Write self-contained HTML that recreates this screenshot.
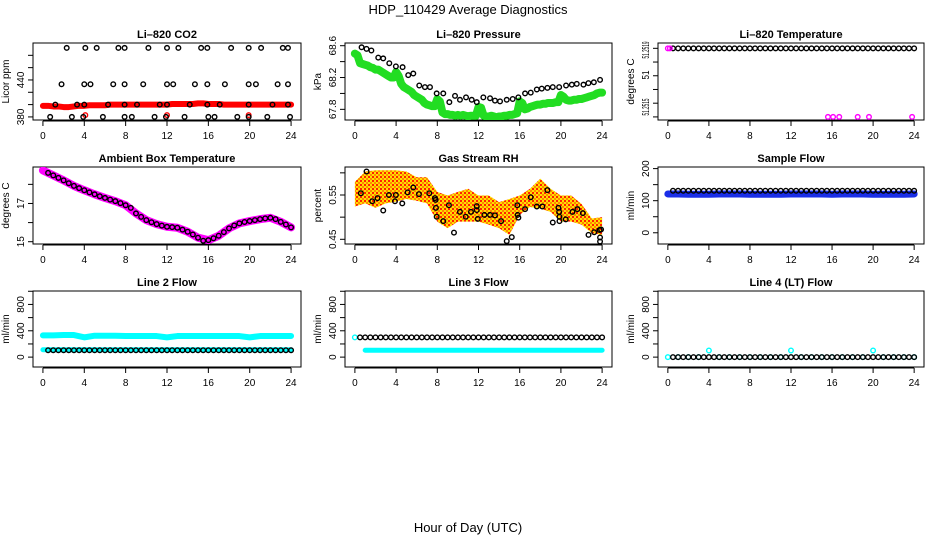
<!DOCTYPE html>
<html><head><meta charset="utf-8"><style>
html,body{margin:0;padding:0;background:#fff;}
svg{display:block;font-family:"Liberation Sans",Arial,sans-serif;}
</style></head><body>
<svg id="c" width="936" height="540" viewBox="0 0 936 540" xmlns="http://www.w3.org/2000/svg">
<defs>
<pattern id="rhpat" width="4" height="4" patternUnits="userSpaceOnUse">
<rect width="4" height="4" fill="#ffdd00"/>
<rect width="2" height="2" fill="#ff2200"/>
<rect x="2" y="2" width="2" height="2" fill="#ff8800"/>
</pattern>
</defs>
<text x="468" y="14" text-anchor="middle" font-size="13">HDP_110429  Average Diagnostics</text>
<text x="468" y="532" text-anchor="middle" font-size="13">Hour of Day (UTC)</text>
</svg>
<script>
// ---------- data ----------
const xTicks=[0,4,8,12,16,20,24];
// Panel 1 CO2
const co2TopT=[2.3,4.1,5.2,7.3,7.9,10.2,12.0,13.1,15.3,15.9,18.2,19.9,21.1,23.2,23.7];
const co2TopV=[492,492,492,492,492,492,492,492,492,492,492,492,492,492,492];
const co2MidT=[1.8,4.0,4.6,6.8,7.9,9.7,12.0,12.6,14.7,15.9,17.6,19.9,20.6,22.7,23.7];
const co2MidV=[433,433,433,433,433,433,433,433,433,433,433,433,433,433,433];
const co2LowT=[1.2,3.3,4.0,6.3,7.9,9.1,11.3,12.0,14.2,15.9,17.1,19.9,22.2,23.7];
const co2LowV=[400,400,400,400,400,400,400,400,400,400,400,400,400,400];
const co2BotT=[0.7,2.8,3.9,5.8,7.9,8.6,10.8,11.9,13.7,16.0,16.6,18.8,19.9,21.7,23.9];
const co2BotV=[380,380,380,380,380,380,380,380,380,380,380,380,380,380,380];
const co2Red=[398,398,397,397,396,396,397,398,398,399,399,399,399,400,400,400,400,400,400,400,400,400,400,400,400,401,401,401,401,401,402,402,401,401,401,400,400,400,400,400,400,400,400,400,400,400,400,400,400];
const co2RedOutT=[4.1,12.0,19.9];
const co2RedOutV=[383,383,383];
// Panel 2 pressure
const presGreen=[68.50,68.48,68.38,68.37,68.36,68.35,68.33,68.32,68.30,68.30,68.28,68.26,68.24,68.22,68.20,68.20,68.27,68.22,68.12,68.08,68.06,68.04,68.02,67.98,67.96,67.94,67.92,67.88,67.86,67.85,67.84,67.84,67.93,67.90,67.76,67.74,67.74,67.73,67.73,67.72,67.73,67.72,67.73,67.72,67.71,67.72,67.72,67.72,67.83,67.82,67.72,67.71,67.71,67.72,67.71,67.70,67.71,67.71,67.72,67.72,67.73,67.73,67.74,67.75,67.90,67.88,67.80,67.81,67.83,67.84,67.85,67.86,67.86,67.87,67.87,67.88,67.88,67.88,67.89,67.89,67.98,67.96,67.92,67.91,67.91,67.92,67.92,67.93,67.93,67.94,67.95,67.96,67.97,67.98,68.00,68.01,68.01];
const presBlackT=[0.65,1.13,1.6,2.27,2.75,3.34,3.98,4.63,5.18,5.67,6.25,6.8,7.29,7.94,8.58,9.17,9.72,10.2,10.79,11.34,11.83,12.47,13.12,13.6,14.09,14.74,15.32,15.87,16.52,17.07,17.66,18.14,18.69,19.21,19.83,20.5,21.06,21.54,22.19,22.67,23.2,23.8];
const presBlackV=[68.58,68.56,68.54,68.45,68.44,68.38,68.34,68.33,68.23,68.25,68.10,68.08,68.08,68.0,68.0,67.89,67.97,67.92,67.95,67.92,67.89,67.95,67.94,67.91,67.90,67.92,67.93,67.95,68.0,68.01,68.05,68.06,68.07,68.08,68.08,68.10,68.11,68.12,68.11,68.13,68.14,68.17];
// Panel 3 Li-820 temperature
const tempBlack=[51.2519,51.2519,51.2519,51.2519,51.2519,51.2519,51.2519,51.2519,51.2519,51.2519,51.2519,51.2519,51.2519,51.2519,51.2519,51.2519,51.2519,51.2519,51.2519,51.2519,51.2519,51.2519,51.2519,51.2519,51.2519,51.2519,51.2519,51.2519,51.2519,51.2519,51.2519,51.2519,51.2519,51.2519,51.2519,51.2519,51.2519,51.2519,51.2519,51.2519,51.2519,51.2519,51.2519,51.2519,51.2519,51.2519,51.2519,51.2519];
const tempMagT=[0,0.2,15.6,16.1,16.7,18.5,19.6,23.8];
const tempMagV=[51.2519,51.2519,51.2515,51.2515,51.2515,51.2515,51.2515,51.2515];
// Panel 4 ambient box temperature
const ambMag=[18.73,18.47,18.21,17.92,17.69,17.48,17.29,17.12,16.91,16.48,16.13,15.92,15.78,15.73,15.52,15.21,15.08,15.31,15.70,15.96,16.08,16.18,16.25,16.04,15.75];
const ambBlack=[18.60,18.47,18.34,18.21,18.06,17.92,17.80,17.69,17.58,17.48,17.38,17.29,17.20,17.12,17.02,16.91,16.77,16.48,16.30,16.13,16.02,15.92,15.84,15.78,15.76,15.73,15.63,15.52,15.38,15.21,15.05,15.08,15.18,15.31,15.50,15.70,15.85,15.96,16.03,16.08,16.13,16.18,16.22,16.25,16.18,16.04,15.90,15.75];
// Panel 5 gas stream RH
const rhBandMax=[0.580,0.603,0.606,0.606,0.606,0.603,0.590,0.590,0.557,0.549,0.557,0.564,0.549,0.549,0.534,0.541,0.549,0.564,0.587,0.564,0.549,0.549,0.530,0.497,0.500];
const rhBandMin=[0.524,0.531,0.521,0.531,0.535,0.541,0.537,0.531,0.490,0.475,0.490,0.490,0.490,0.483,0.475,0.460,0.505,0.523,0.519,0.512,0.490,0.490,0.483,0.464,0.460];
const rhBlackT=[0.58,1.13,1.68,2.2,2.75,3.3,3.89,3.98,4.6,5.12,5.67,6.22,7.22,7.77,7.84,7.87,7.94,8.58,9.13,9.62,10.2,10.76,11.27,11.83,11.83,11.93,12.57,13.12,13.6,14.19,14.74,15.23,15.77,15.8,15.87,16.52,17.07,17.66,18.2,18.69,19.21,19.76,19.83,19.86,19.86,20.47,21.12,21.6,22.13,22.68,23.23,23.75,23.9,23.8,23.8];
const rhBlackV=[0.554,0.603,0.536,0.543,0.515,0.55,0.536,0.55,0.531,0.556,0.567,0.552,0.554,0.543,0.539,0.521,0.501,0.491,0.527,0.465,0.512,0.501,0.512,0.525,0.516,0.496,0.505,0.505,0.504,0.491,0.446,0.455,0.527,0.505,0.499,0.518,0.545,0.524,0.524,0.561,0.488,0.521,0.512,0.501,0.491,0.495,0.512,0.518,0.509,0.46,0.466,0.471,0.472,0.454,0.445];
// Panel 6 sample flow
const sfBlack=[131,131,131,131,131,131,131,131,131,131,131,131,131,131,131,131,131,131,131,131,131,131,131,131,131,131,131,131,131,131,131,131,131,131,131,131,131,131,131,131,131,131,131,131,131,131,131,131];
const sfBlue=[121,121,120,120,120,121,121,121,120,120,120,120,121,121,121,121,120,121,121,121,120,120,120,120,121];
// Panel 7 line 2 flow
const l2CyanHigh=[330,330,335,335,300,325,325,325,320,320,320,320,300,320,320,320,320,320,320,320,300,320,320,320,320];
const l2CyanLow=[112,112,112,112,112,112,112,112,112,112,112,112,112,112,112,112,112,112,112,112,112,112,112,112,112];
const l2Black=[105,105,105,105,105,105,105,105,105,105,105,105,105,105,105,105,105,105,105,105,105,105,105,105,105,105,105,105,105,105,105,105,105,105,105,105,105,105,105,105,105,105,105,105,105,105,105,105];
// Panel 8 line 3 flow
const l3Cyan=[300,105,105,105,105,105,105,105,105,105,105,105,105,105,105,105,105,105,105,105,105,105,105,105,105];
const l3Black=[300,300,300,300,300,300,300,300,300,300,300,300,300,300,300,300,300,300,300,300,300,300,300,300,300,300,300,300,300,300,300,300,300,300,300,300,300,300,300,300,300,300,300,300,300,300,300,300];
// Panel 9 line 4 flow
const l4Cyan=[0,0,0,0,100,0,0,0,0,0,0,0,100,0,0,0,0,0,0,0,100,0,0,0,0];
const l4Black=[0,0,0,0,0,0,0,0,0,0,0,0,0,0,0,0,0,0,0,0,0,0,0,0,0,0,0,0,0,0,0,0,0,0,0,0,0,0,0,0,0,0,0,0,0,0,0,0];

// ---------- drawing ----------
const NS="http://www.w3.org/2000/svg";
const svg=document.getElementById('c');
const cols=[{l:33,r:301},{l:345,r:612},{l:658,r:924}];
const rows=[{t:43,b:120},{t:167,b:244},{t:291,b:367}];
function el(tag,attrs,parent){const e=document.createElementNS(NS,tag);for(const k in attrs)e.setAttribute(k,attrs[k]);(parent||svg).appendChild(e);return e;}
function panel(key,ci,ri,title,ylab,ymin,ymax,yt,yl){
  const c=cols[ci],r=rows[ri];
  const g=el('g',{});
  
  
  const sx=t=>c.l+(t+0.96)/25.92*(c.r-c.l);
  const sy=v=>r.b-(v-ymin)/(ymax-ymin)*(r.b-r.t);
  const tt=el('text',{x:(c.l+c.r)/2,y:r.t-5,'text-anchor':'middle','font-size':11,'font-weight':'bold'},g);
  tt.textContent=title;
  
  
  const box=el('rect',{x:c.l,y:r.t,width:c.r-c.l,height:r.b-r.t,fill:'none',stroke:'#000','stroke-width':1},g);
  
  
  const xa=el('g',{},g);
  
  
  el('line',{x1:sx(0),x2:sx(24),y1:r.b+1,y2:r.b+1,stroke:'#000'},xa);
  xTicks.forEach(t=>{
    el('line',{x1:sx(t),x2:sx(t),y1:r.b+1,y2:r.b+6,stroke:'#000'},xa);
    const lb=el('text',{x:sx(t),y:r.b+19,'text-anchor':'middle','font-size':10},xa);
    lb.textContent=t;
    
    
  });
  const ya=el('g',{},g);
  
  
  yt.forEach(v=>el('line',{x1:c.l-5,x2:c.l,y1:sy(v),y2:sy(v),stroke:'#000'},ya));
  yl.forEach(o=>{
    const y=o.y!==undefined?o.y:sy(o.v);
    const a={x:c.l-9,y:y,'text-anchor':'middle','font-size':10,transform:`rotate(-90 ${c.l-9} ${y})`};
    if(o.len){a.textLength=o.len;a.lengthAdjust='spacingAndGlyphs';}
    const lb=el('text',a,ya);
    lb.textContent=o.s;
    
    
  });
  const yt2=el('text',{x:c.l-24,y:(r.t+r.b)/2,'text-anchor':'middle','font-size':10,transform:`rotate(-90 ${c.l-24} ${(r.t+r.b)/2})`},g);
  yt2.textContent=ylab;
  
  
  const clipId='clip'+key;
  const cp=el('clipPath',{id:clipId},g);el('rect',{x:c.l,y:r.t,width:c.r-c.l,height:r.b-r.t},cp);
  const pg=el('g',{'clip-path':`url(#${clipId})`},g);
  return {sx,sy,g:pg};
}
function pts(P,ts,vs,color,name,rad,fill){
  const g=el('g',{},P.g);
  
  
  vs.forEach((v,i)=>{
    el('circle',{cx:P.sx(ts[i]),cy:P.sy(v),r:rad||2.3,fill:fill||'none',stroke:color,'stroke-width':1.4},g);
  });
}
function band(P,ts,vs,color,w,name){
  const l=el('polyline',{points:vs.map((v,i)=>P.sx(ts[i])+','+P.sy(v)).join(' '),fill:'none',stroke:color,'stroke-width':w,'stroke-linejoin':'round','stroke-linecap':'round'},P.g);
  
  
}
const grid=(n,step,start)=>Array.from({length:n},(_,i)=>(start||0)+i*step);

// P1
let P=panel('co2',0,0,'Li\u2013820 CO2','Licor ppm',375,500,[380,400,420,440,460,480],[{v:380,s:'380'},{v:440,s:'440'}]);
band(P,grid(co2Red.length,0.5),co2Red,'#ff0000',6,'co2-red-series');
pts(P,co2RedOutT,co2RedOutV,'#ff0000','co2-red-outliers');
pts(P,co2TopT,co2TopV,'#000','co2-black-top');
pts(P,co2MidT,co2MidV,'#000','co2-black-mid');
pts(P,co2LowT,co2LowV,'#000','co2-black-low');
pts(P,co2BotT,co2BotV,'#000','co2-black-bottom');
// P2
P=panel('pressure',1,0,'Li\u2013820 Pressure','kPa',67.666,68.634,[67.8,68.0,68.2,68.4,68.6],[{v:67.8,s:'67.8'},{v:68.2,s:'68.2'},{v:68.6,s:'68.6'}]);
band(P,grid(presGreen.length,0.25),presGreen,'#22dd22',8,'pressure-green-series');
pts(P,presBlackT,presBlackV,'#000','pressure-black-series');
// P3
P=panel('licor-temp',2,0,'Li\u2013820 Temperature','degrees C',51.251482,51.251931,[51.2519,51.25182,51.25174,51.25166,51.25158,51.2515],[{y:50,s:'51.2519',len:17},{y:75,s:'51',len:9},{y:107,s:'51.2515',len:17}]);
pts(P,grid(tempBlack.length,0.5,0.5),tempBlack,'#000','licor-temp-black-series',2.3,'none');
pts(P,tempMagT,tempMagV,'#ff00ff','licor-temp-magenta-series');
// P4
P=panel('ambient',0,1,'Ambient Box Temperature','degrees C',14.88,18.908,[15,16,17,18],[{v:15,s:'15'},{v:17,s:'17'}]);
band(P,grid(ambMag.length,1),ambMag,'#ff00ff',8,'ambient-magenta-series');
pts(P,grid(ambBlack.length,0.5,0.5),ambBlack,'#000','ambient-black-series');
// P5
P=panel('rh',1,1,'Gas Stream RH','percent',0.4394,0.6132,[0.45,0.50,0.55,0.60],[{v:0.45,s:'0.45'},{v:0.55,s:'0.55'}]);
(function(){const ts=grid(rhBandMax.length,1);
const d=rhBandMax.map((v,i)=>P.sx(ts[i])+','+P.sy(v)).concat(rhBandMin.map((v,i)=>P.sx(ts[i])+','+P.sy(v)).reverse()).join(' ');
const p=el('polygon',{points:d,fill:'url(#rhpat)',stroke:'none'},P.g);

})();
pts(P,rhBlackT,rhBlackV,'#000','rh-black-series');
// P6
P=panel('sample-flow',2,1,'Sample Flow','ml/min',-35,205,[0,50,100,150,200],[{v:0,s:'0'},{v:100,s:'100'},{v:200,s:'200'}]);
band(P,grid(sfBlue.length,1),sfBlue,'#1a2ee8',7,'sample-flow-blue-series');
pts(P,grid(sfBlack.length,0.5,0.5),sfBlack,'#000','sample-flow-black-series');
// P7-9
const ft=[0,200,400,600,800,1000],fl=[{v:0,s:'0'},{v:400,s:'400'},{v:800,s:'800'}];
P=panel('line2',0,2,'Line 2 Flow','ml/min',-150,1004,ft,fl);
band(P,grid(l2CyanHigh.length,1),l2CyanHigh,'#00ffff',6,'line2-cyan-high');
band(P,grid(l2CyanLow.length,1),l2CyanLow,'#00ffff',5,'line2-cyan-low');
pts(P,grid(l2Black.length,0.5,0.5),l2Black,'#000','line2-black-series');
P=panel('line3',1,2,'Line 3 Flow','ml/min',-150,1004,ft,fl);
band(P,grid(l3Cyan.length-1,1,1),l3Cyan.slice(1),'#00ffff',5,'line3-cyan-series');
pts(P,[0],[l3Cyan[0]],'#00ffff','line3-cyan-first');
pts(P,grid(l3Black.length,0.5,0.5),l3Black,'#000','line3-black-series');
P=panel('line4',2,2,'Line 4 (LT) Flow','ml/min',-150,1004,ft,fl);
pts(P,grid(l4Cyan.length,1),l4Cyan,'#00ffff','line4-cyan-series');
pts(P,grid(l4Black.length,0.5,0.5),l4Black,'#000','line4-black-series');
</script>
</body></html>
